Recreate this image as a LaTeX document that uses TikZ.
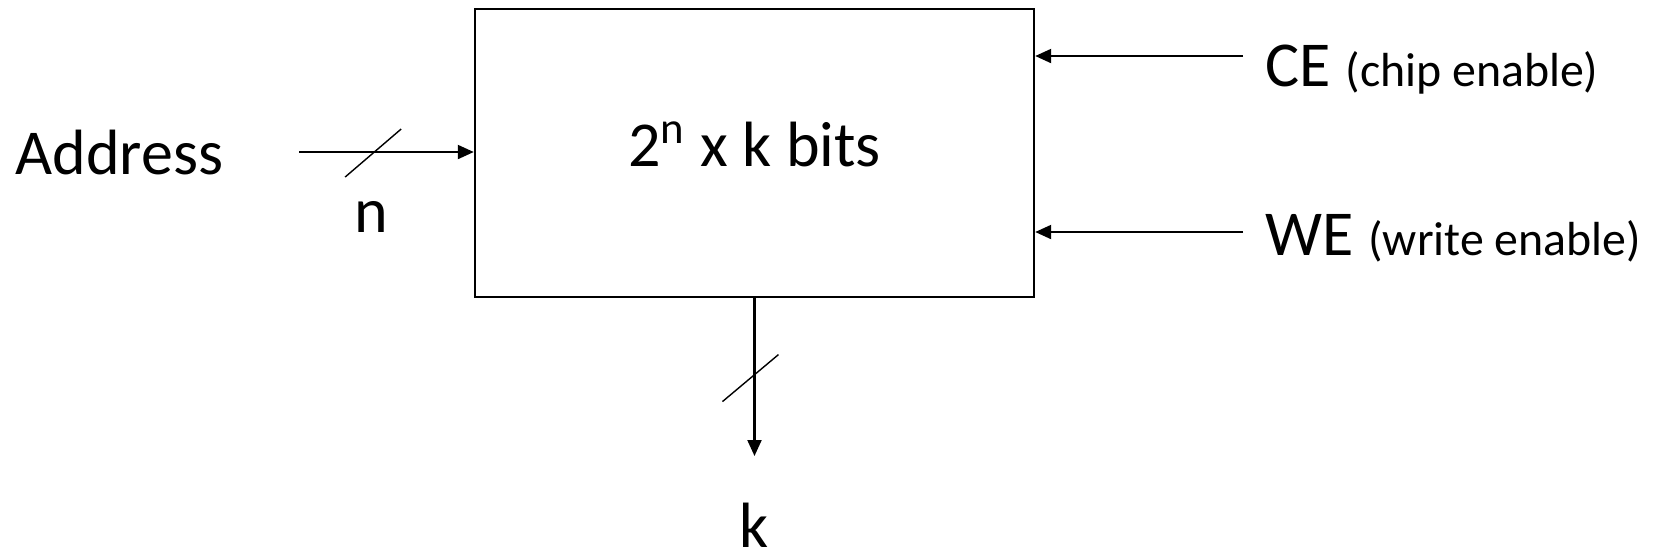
\documentclass[tikz,border=0pt]{standalone}
\usepackage{fontspec}
\setmainfont{Carlito}
\usetikzlibrary{arrows.meta,positioning,calc}

\newcommand{\bigtxt}{\fontsize{18.2}{22}\selectfont}
\newcommand{\smalltxt}{\fontsize{13.6}{16}\selectfont}

\begin{document}
\begin{tikzpicture}[
    x=0.01cm, y=-0.01cm,
    font=\bigtxt,
    box/.style={draw, rectangle, line width=0.6pt, minimum width=5.59cm, minimum height=2.88cm,
                inner sep=0pt, text height=0.45cm, text depth=0.19cm},
    lbl/.style={inner sep=0pt},
    arrow/.style={-{Triangle[length=0.16cm, width=0.14cm]}, line width=0.6pt},
    slash/.style={line width=0.4pt}
]
    \useasboundingbox (0,0) rectangle (1656,553);

    % Memory block
    \node[box] (mem) at (754.5,153) {2\textsuperscript{n} x k bits};

    % Address input
    \node[lbl, anchor=base west] (addr) at (15,174) {Address};
    \coordinate (addr_in) at (299,152);
    \draw[arrow] (addr_in) -- (addr_in -| mem.west);
    \coordinate (addr_bus) at ($(addr_in)!0.43!(addr_in -| mem.west)$);
    \draw[slash] ([shift={(-29,25)}]addr_bus) -- ([shift={(27,-23)}]addr_bus);
    \node[lbl, anchor=base] (addr_n) at (371,232) {n};

    % Control inputs
    \node[lbl, anchor=base west] (ce) at (1265,86) {CE\ {\smalltxt (chip enable)}};
    \node[lbl, anchor=base west] (we) at (1265,255) {WE\ {\smalltxt (write enable)}};
    \coordinate (ce_in) at (1243,56);
    \coordinate (we_in) at (1243,232);
    \draw[arrow] (ce_in) -- (ce_in -| mem.east);
    \draw[arrow] (we_in) -- (we_in -| mem.east);

    % Data output
    \coordinate (data_out) at (754.5,456);
    \draw[arrow] (mem.south) -- (data_out);
    \coordinate (data_bus) at ($(mem.south)!0.484!(data_out)$);
    \draw[slash] ([shift={(-32,27)}]data_bus) -- ([shift={(24,-20)}]data_bus);
    \node[lbl, anchor=base] (data_k) at (754,547) {k};
\end{tikzpicture}
\end{document}
